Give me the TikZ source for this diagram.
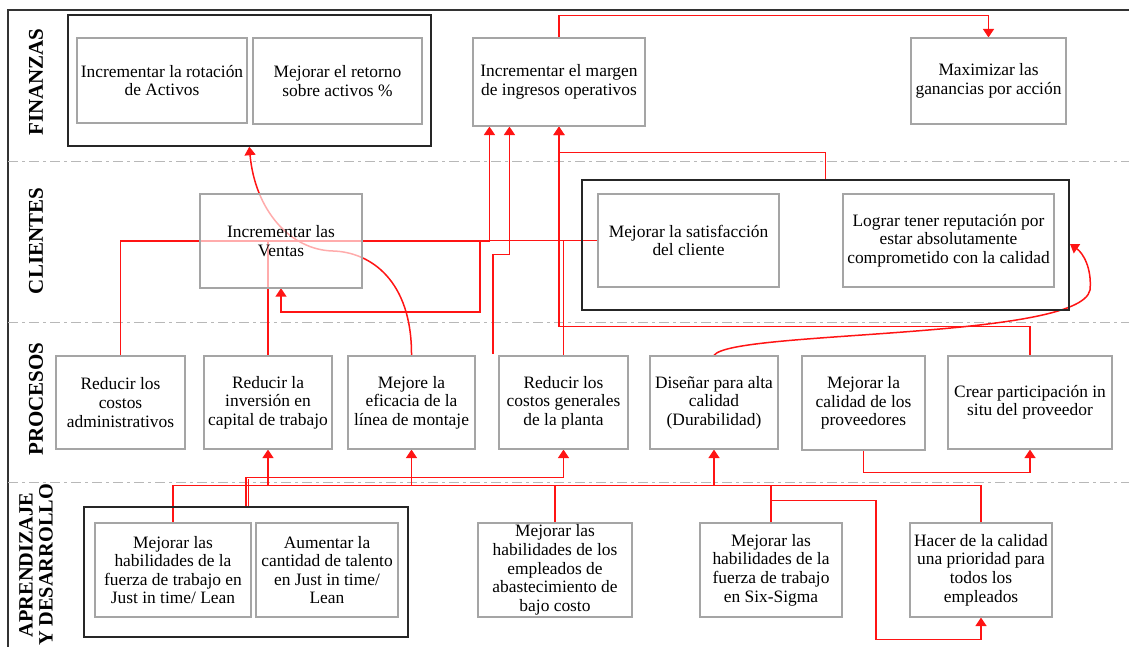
\documentclass[tikz,border=0pt]{standalone}
\usepackage{fontspec}
\setmainfont{Liberation Serif}
\usetikzlibrary{arrows.meta,calc,backgrounds}
\definecolor{boxgray}{RGB}{165,165,165}
\definecolor{lnred}{RGB}{255,20,20}
\begin{document}
\begin{tikzpicture}[x=1pt,y=-1pt,
  box/.style={draw=boxgray, line width=1.1pt, fill=white, inner sep=0pt, align=center,
              font=\fontsize{17.4}{18.6}\selectfont},
  grp/.style={draw=black!85, line width=1.4pt, inner sep=0pt},
  link/.style={draw=lnred, line width=1.5pt},
  arr/.style={link, -{Triangle[width=11pt,length=8.5pt]}},
  sep/.style={draw=black!28, line width=1pt, dash pattern=on 10pt off 4pt on 3pt off 4pt},
  lane/.style={font=\bfseries\fontsize{21}{20}\selectfont, rotate=90, align=center, inner sep=0pt}
]
\useasboundingbox (0,0) rectangle (1129,647);

% lane labels
\node[lane] (lf) at (36,82) {FINANZAS};
\node[lane] (lc) at (36,241) {CLIENTES};
\node[lane] (lp) at (36,399) {PROCESOS};
\node[lane, font=\bfseries\fontsize{20.3}{20}\selectfont] (la) at (36,565) {APRENDIZAJE\\Y DESARROLLO};

% groups
\node[grp, minimum width=363pt, minimum height=131pt] (gA) at (249.5,80.5) {};
\node[grp, minimum width=487pt, minimum height=130pt] (gC) at (825.5,245) {};
\node[grp, minimum width=324pt, minimum height=130pt] (gL) at (246,572) {};

% finanzas
\node[box, minimum width=170pt, minimum height=85pt] (A1) at (162,80.5) {Incrementar la rotación\\de Activos};
\node[box, minimum width=169pt, minimum height=86pt] (A2) at (337.5,81) {Mejorar el retorno\\sobre activos \%};
\node[box, minimum width=172pt, minimum height=88pt] (F3) at (559,82) {Incrementar el margen\\de ingresos operativos};
\node[box, minimum width=155pt, minimum height=86pt] (F4) at (988.5,81) {Maximizar las\\ganancias por acción};

% clientes
\path node[inner sep=0pt, minimum width=162pt, minimum height=94pt] (V) at (281,241) {};
\node[box, minimum width=181pt, minimum height=93pt] (C1) at (688.5,240.5) {Mejorar la satisfacción\\del cliente};
\node[box, minimum width=211pt, minimum height=93pt] (C2) at (948.5,240.5) {Lograr tener reputación por\\estar absolutamente\\comprometido con la calidad};

% procesos
\node[box, minimum width=129pt, minimum height=93pt] (P1) at (120.5,402.5) {Reducir los\\costos\\administrativos};
\node[box, minimum width=128pt, minimum height=93pt] (P2) at (268,402.5) {Reducir la\\inversión en\\capital de trabajo};
\node[box, minimum width=127pt, minimum height=93pt] (P3) at (411.5,402.5) {Mejore la\\eficacia de la\\línea de montaje};
\node[box, minimum width=129pt, minimum height=93pt] (P4) at (563.5,402.5) {Reducir los\\costos generales\\de la planta};
\node[box, minimum width=128pt, minimum height=93pt] (P5) at (714,402.5) {Diseñar para alta\\calidad\\(Durabilidad)};
\node[box, minimum width=123pt, minimum height=94pt] (P6) at (863.5,403) {Mejorar la\\calidad de los\\proveedores};
\node[box, minimum width=164pt, minimum height=93pt] (P7) at (1030,402.5) {Crear participación in\\situ del proveedor};

% aprendizaje
\node[box, minimum width=156pt, minimum height=94pt] (L1) at (173,570) {Mejorar las\\habilidades de la\\fuerza de trabajo en\\Just in time/ Lean};
\node[box, minimum width=142pt, minimum height=94pt] (L2) at (327,570) {Aumentar la\\cantidad de talento\\en Just in time/\\Lean};
\node[box, minimum width=154pt, minimum height=94pt] (L3) at (555,570) {Mejorar las\\habilidades de los\\empleados de\\abastecimiento de\\bajo costo};
\node[box, minimum width=142pt, minimum height=94pt] (L4) at (771,570) {Mejorar las\\habilidades de la\\fuerza de trabajo\\en Six-Sigma};
\node[box, minimum width=142pt, minimum height=94pt] (L5) at (981,570) {Hacer de la calidad\\una prioridad para\\todos los\\empleados};

\coordinate (busV) at (0,241);
\coordinate (busB) at (0,486);
\coordinate (f3a) at ($(F3.south west)+(17,0)$);
\coordinate (f3b) at ($(F3.south west)+(37,0)$);
\coordinate (fe) at (493,354);
\coordinate (jv) at (480,312);
\coordinate (ga) at ($(gA.south west)+(182,0)$);
\coordinate (mid) at (333,251);
\coordinate (ce) at (1070,244);

\begin{scope}[on background layer]
  \draw[line width=1.4pt, black!80] (8,660) -- (8,10) -- (1140,10);
  \draw[sep] (8,162) -- (1140,162);
  \draw[sep] (8,322) -- (1140,322);
  \draw[sep] (8,482) -- (1140,482);

  \draw[arr] (F3.north) -- ++(0,-22) -| (F4.north);
  \draw[arr] (gC.north) -- ++(0,-27) -| (F3.south);
  \draw[arr] (P7.north) -- ++(0,-29) -| (F3.south);
  \draw[arr] (P1.north) |- (f3a |- busV) -- (f3a);
  \draw[arr] (C1.west) -| (jv) -| (V.south);
  \draw[link] (P2.north) -- (P2.north |- busV);
  \draw[link] (P4.north) -- (P4.north |- busV);
  \draw[arr] (fe) |- ($(f3b)+(0,128)$) -- (f3b);
  \draw[arr] (P3.north) .. controls (412,280) and (370,252) .. (mid)
                        .. controls (290,250) and (255,210) .. (ga);
  \draw[arr] (P5.north) .. controls (730,330) and (1080,340) .. (1090,290)
                        .. controls (1092,268) and (1083,253) .. (ce);
  \draw[arr] (P6.south) -- ++(0,22) -| (P7.south);
  \draw[arr] (gL.north) -- ++(0,-29) -| (P4.south);
  \draw[link] ($(gL.north)+(2.5,0)$) -- ++(0,-27);
  \draw[link] (L1.north) -- ++(0,-37) -| (L5.north);
  \draw[arr] (P2.south |- busB) -- (P2.south);
  \draw[arr] (P3.south |- busB) -- (P3.south);
  \draw[arr] (P5.south |- busB) -- (P5.south);
  \draw[link] (L3.north) -- (L3.north |- busB);
  \draw[link] (L4.north) -- (L4.north |- busB);
  \draw[arr] ($(L4.north)+(0,-22)$) -- ++(105,0) |- ($(L5.south)+(0,22)$) -- (L5.south);
\end{scope}

\node[box, minimum width=162pt, minimum height=94pt, fill opacity=0.65, text opacity=1] (V2) at (V) {Incrementar las\\Ventas};
\end{tikzpicture}
\end{document}
